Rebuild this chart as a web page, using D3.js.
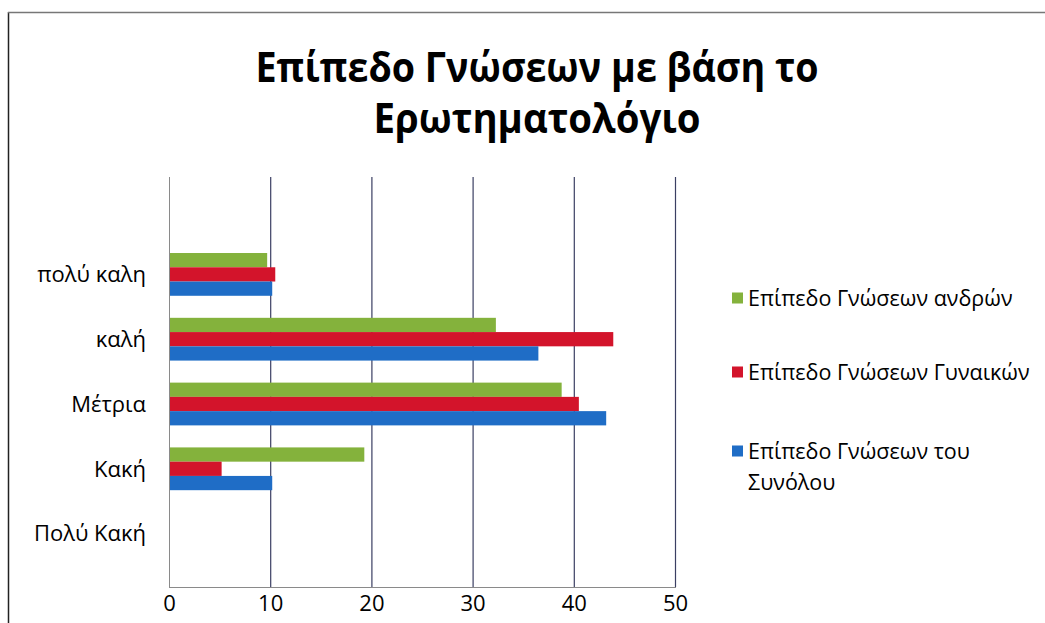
<!DOCTYPE html>
<html>
<head>
<meta charset="utf-8">
<script src="https://cdn.jsdelivr.net/npm/d3@7"></script>
<style>
  html, body { margin: 0; padding: 0; background: #fff; }
  svg { display: block; }
  text { font-family: "Open Sans", "Noto Sans", sans-serif; fill: #000; }
</style>
</head>
<body>
<svg id="chart" width="1045" height="623"></svg>
<script>
// Knowledge level categories, top to bottom
const categories = ["πολύ καλη", "καλή", "Μέτρια", "Κακή", "Πολύ Κακή"];

// Series names (legend order)
const seriesNames = [
  "Επίπεδο Γνώσεων ανδρών",
  "Επίπεδο Γνώσεων Γυναικών",
  "Επίπεδο Γνώσεων του Συνόλου"
];

// Values per category, one array per series
const menValues   = [9.7, 32.3, 38.8, 19.3, 0];
const womenValues = [10.5, 43.9, 40.5, 5.2, 0];
const totalValues = [10.2, 36.5, 43.2, 10.2, 0];

const xTicks = [0, 10, 20, 30, 40, 50];

const seriesColors = ["#84b23c", "#d3142b", "#1f6dc6"];

const series = [menValues, womenValues, totalValues];

const svg = d3.select("#chart");

// Outer chart frame (left and top edges)
svg.append("line").attr("x1", 8.5).attr("x2", 8.5).attr("y1", 12).attr("y2", 623)
  .attr("stroke", "#222").attr("stroke-width", 1.5);
svg.append("line").attr("x1", 8).attr("x2", 1045).attr("y1", 12.5).attr("y2", 12.5)
  .attr("stroke", "#777").attr("stroke-width", 1.5);

// Title (two lines, fitted to a fixed width)
const title = svg.append("text")
  .attr("text-anchor", "middle")
  .style("font-weight", "700")
  .style("font-size", "41px");
title.append("tspan").attr("x", 537).attr("y", 82)
  .attr("textLength", 563).attr("lengthAdjust", "spacingAndGlyphs")
  .text("Επίπεδο Γνώσεων με βάση το");
title.append("tspan").attr("x", 537).attr("y", 133)
  .attr("textLength", 327).attr("lengthAdjust", "spacingAndGlyphs")
  .text("Ερωτηματολόγιο");

// Scales
const plotTop = 177, plotBottom = 587;
const x = d3.scaleLinear().domain([0, 50]).range([169, 675]);
const y = d3.scaleBand().domain(categories).range([242, 566])
  .paddingInner(0.34).paddingOuter(0.17);
const ySub = d3.scaleBand().domain(d3.range(series.length)).range([0, y.bandwidth()]);

// Vertical gridlines
svg.append("g").selectAll("line")
  .data(xTicks.filter(t => t > 0))
  .join("line")
  .attr("x1", d => x(d) + 0.5).attr("x2", d => x(d) + 0.5)
  .attr("y1", plotTop).attr("y2", plotBottom)
  .attr("stroke", "#3b3f63").attr("stroke-width", 1.2);

// Bars
const rows = categories.map((c, i) => ({ cat: c, vals: series.map(s => s[i]) }));
const groups = svg.append("g").selectAll("g")
  .data(rows)
  .join("g")
  .attr("transform", d => `translate(0,${y(d.cat)})`);
groups.selectAll("rect")
  .data(d => d.vals.map((v, k) => ({ v, k })))
  .join("rect")
  .attr("x", x(0))
  .attr("y", d => ySub(d.k))
  .attr("width", d => x(d.v) - x(0))
  .attr("height", ySub.bandwidth())
  .attr("fill", d => seriesColors[d.k]);

// Axes lines (left category axis, bottom value axis)
svg.append("line").attr("x1", x(0) + 0.5).attr("x2", x(0) + 0.5)
  .attr("y1", plotTop).attr("y2", plotBottom).attr("stroke", "#8a8a8a").attr("stroke-width", 1);
svg.append("line").attr("x1", x(0)).attr("x2", x(50) + 1)
  .attr("y1", plotBottom + 0.5).attr("y2", plotBottom + 0.5).attr("stroke", "#8a8a8a").attr("stroke-width", 1);

// Value axis tick labels
const xAxis = d3.axisBottom(x).tickValues(xTicks).tickSize(0).tickPadding(0).tickFormat(d3.format("d"));
const gx = svg.append("g").attr("transform", `translate(0,${plotBottom})`).call(xAxis);
gx.select(".domain").remove();
gx.selectAll("text").attr("dy", "0").attr("y", 24)
  .style("font-size", "22px").style("font-family", "'Open Sans', sans-serif").attr("fill", "#000");

// Category labels
const yAxis = d3.axisLeft(y).tickSize(0).tickPadding(0);
const gy = svg.append("g").attr("transform", `translate(146,0)`).call(yAxis);
gy.select(".domain").remove();
gy.selectAll("text").attr("x", 0).attr("dy", "0.35em")
  .style("font-size", "22px").style("font-family", "'Open Sans', sans-serif").attr("fill", "#000");

// Legend
const legendY = [298, 372, 451];
const legend = svg.append("g").selectAll("g")
  .data(seriesNames)
  .join("g")
  .attr("transform", (d, i) => `translate(732,${legendY[i]})`);
legend.append("rect").attr("x", 0).attr("y", -5.5).attr("width", 11).attr("height", 11)
  .attr("fill", (d, i) => seriesColors[i]);
legend.append("text")
  .attr("x", 16).attr("y", 0).attr("dy", "0.35em")
  .style("font-size", "21.5px")
  .each(function(d, i) {
    const t = d3.select(this);
    if (i === 2) {
      t.append("tspan").attr("x", 16).text("Επίπεδο Γνώσεων του");
      t.append("tspan").attr("x", 16).attr("dy", "1.45em").text("Συνόλου");
    } else {
      t.text(d);
    }
  });
</script>
</body>
</html>
